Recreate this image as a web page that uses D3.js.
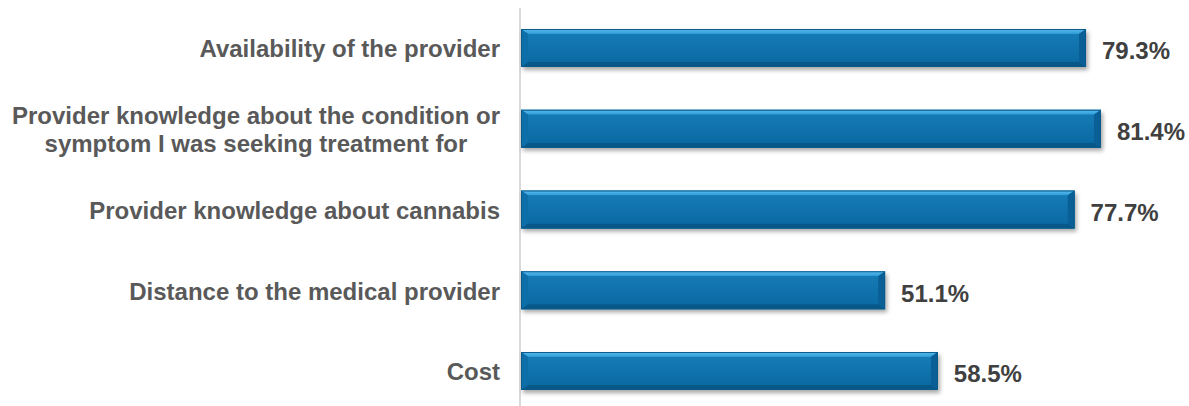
<!DOCTYPE html>
<html>
<head>
<meta charset="utf-8">
<script src="https://cdn.jsdelivr.net/npm/d3@7"></script>
<style>
  html, body { margin: 0; padding: 0; background: #ffffff; }
  svg { display: block; }
  text { font-family: "Liberation Sans", Arial, sans-serif; font-weight: bold; }
</style>
</head>
<body>
<svg id="chart" width="1189" height="406"></svg>
<script>
// Survey factors, one line per array entry for wrapped labels
const categories = [
  ["Availability of the provider"],
  ["Provider knowledge about the condition or", "symptom I was seeking treatment for"],
  ["Provider knowledge about cannabis"],
  ["Distance to the medical provider"],
  ["Cost"]
];
const values = [79.3, 81.4, 77.7, 51.1, 58.5];
const valueLabels = ["79.3%", "81.4%", "77.7%", "51.1%", "58.5%"];

const svg = d3.select("#chart");
const W = 1189, H = 406;
const FONT = "24px";

const x = d3.scaleLinear().domain([0, 100]).range([521, 1233.5]);
const y = d3.scaleBand()
  .domain(d3.range(categories.length))
  .range([7.6, 411.4])
  .paddingInner(0.53)
  .paddingOuter(0.265);

const defs = svg.append("defs");
const shadow = defs.append("filter").attr("id", "shadow")
  .attr("x", "-5%").attr("y", "-30%").attr("width", "110%").attr("height", "170%");
shadow.append("feDropShadow")
  .attr("dx", 2).attr("dy", 3).attr("stdDeviation", 2)
  .attr("flood-color", "#000").attr("flood-opacity", 0.35);

const topGrad = defs.append("linearGradient").attr("id", "topGrad")
  .attr("x1", 0).attr("y1", 0).attr("x2", 0).attr("y2", 1);
topGrad.append("stop").attr("offset", "0%").attr("stop-color", "#5cbdf0");
topGrad.append("stop").attr("offset", "100%").attr("stop-color", "#2c9ad6");

const faceGrad = defs.append("linearGradient").attr("id", "faceGrad")
  .attr("x1", 0).attr("y1", 0).attr("x2", 0).attr("y2", 1);
faceGrad.append("stop").attr("offset", "0%").attr("stop-color", "#157bb5");
faceGrad.append("stop").attr("offset", "100%").attr("stop-color", "#0b6aa3");

// Vertical category axis line
svg.append("line")
  .attr("x1", 520).attr("x2", 520)
  .attr("y1", 8).attr("y2", H)
  .attr("stroke", "#d9d9d9").attr("stroke-width", 2);

const bw = y.bandwidth();
const bevelX = 7, bevelT = 5, bevelB = 5;

const bars = svg.selectAll("g.bar")
  .data(values)
  .join("g")
  .attr("class", "bar");

bars.each(function(v, i) {
  const g = d3.select(this);
  const x0 = x(0), x1 = x(v);
  const y0 = y(i), y1 = y(i) + bw;
  const ix0 = x0 + bevelX, ix1 = x1 - bevelX;
  const iy0 = y0 + bevelT, iy1 = y1 - bevelB;

  // base with drop shadow
  g.append("rect")
    .attr("x", x0).attr("y", y0)
    .attr("width", x1 - x0).attr("height", bw)
    .attr("fill", "#0b6aa3")
    .attr("filter", "url(#shadow)");

  const poly = (pts, fill) => g.append("polygon")
    .attr("points", pts.map(p => p.join(",")).join(" "))
    .attr("fill", fill);

  // top bevel
  poly([[x0, y0], [x1, y0], [ix1, iy0], [ix0, iy0]], "url(#topGrad)");
  // bottom bevel
  poly([[x0, y1], [ix0, iy1], [ix1, iy1], [x1, y1]], "#075889");
  // left bevel
  poly([[x0, y0], [ix0, iy0], [ix0, iy1], [x0, y1]], "#0d6ea8");
  // right bevel
  poly([[x1, y0], [x1, y1], [ix1, iy1], [ix1, iy0]], "#0a5f96");
  // face
  g.append("rect")
    .attr("x", ix0).attr("y", iy0)
    .attr("width", Math.max(0, ix1 - ix0)).attr("height", iy1 - iy0)
    .attr("fill", "url(#faceGrad)");
  // outline
  g.append("rect")
    .attr("x", x0 + 0.5).attr("y", y0 + 0.5)
    .attr("width", x1 - x0 - 1).attr("height", bw - 1)
    .attr("fill", "none")
    .attr("stroke", "#0a5a8a").attr("stroke-width", 1);
});

// Value labels
svg.selectAll("text.value")
  .data(values)
  .join("text")
  .attr("class", "value")
  .attr("x", d => x(d) + 16)
  .attr("y", (d, i) => y(i) + bw / 2 + 3)
  .attr("dy", "0.35em")
  .attr("font-size", FONT)
  .attr("fill", "#404040")
  .text((d, i) => valueLabels[i]);

// Category labels
const lineH = 28;
const labelBlockRight = 500;
svg.selectAll("text.cat")
  .data(categories)
  .join("text")
  .attr("class", "cat")
  .attr("font-size", FONT)
  .attr("fill", "#595959")
  .each(function(lines, i) {
    const t = d3.select(this);
    const cy = y(i) + bw / 2 + 1;
    if (lines.length === 1) {
      t.attr("text-anchor", "end")
        .attr("x", labelBlockRight)
        .attr("y", cy)
        .attr("dy", "0.35em")
        .text(lines[0]);
    } else {
      // measure the widest line so the block stays right-aligned, lines centred
      const probe = svg.append("text").attr("font-size", FONT)
        .style("font-weight", "bold").text(lines[0]);
      let maxW = 0;
      lines.forEach(l => { probe.text(l); maxW = Math.max(maxW, probe.node().getComputedTextLength()); });
      probe.remove();
      const cx = labelBlockRight - maxW / 2;
      t.attr("text-anchor", "middle");
      lines.forEach((l, k) => {
        t.append("tspan")
          .attr("x", cx)
          .attr("y", cy + (k - (lines.length - 1) / 2) * lineH)
          .attr("dy", "0.35em")
          .text(l);
      });
    }
  });
</script>
</body>
</html>
